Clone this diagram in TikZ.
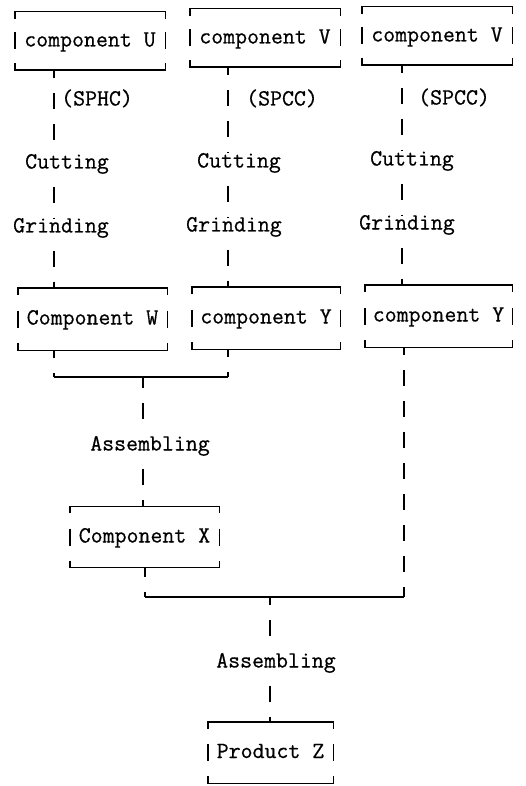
\documentclass[tikz,border=0pt]{standalone}
\usepackage{fontspec}
\newfontfamily\tw[BoldFont={Latin Modern Mono}, BoldFeatures={FakeBold=0.6}]{Latin Modern Mono}
\newcommand\lbfont{\fontsize{23.2}{27}\tw\bfseries}
\begin{document}
\begin{tikzpicture}[x=1pt,y=-1pt,
  box/.style 2 args={font=\lbfont, inner sep=0pt, text height=14pt, text depth=3pt,
                     minimum width=#1, minimum height=#2},
  lbl/.style={font=\lbfont, inner sep=0pt, text height=14pt, text depth=3pt},
  frame/.style={line width=1.4pt},
  link/.style={line width=1.5pt, dash pattern=on 16pt off 15pt}]
\useasboundingbox (0,0) rectangle (525,786);
% column coordinates
\coordinate (c1) at (54,0);
\coordinate (c2) at (228,0);
\coordinate (c3) at (402,0);
% boxes
\node[box={150pt}{58pt}] (U)  at (90,41)    {component U};
\node[box={150pt}{58pt}] (V1) at (265,38)   {component V};
\node[box={150pt}{58pt}] (V2) at (437,36)   {component V};
\node[box={149pt}{62pt}] (W)  at (92.5,319) {Component W};
\node[box={148pt}{62pt}] (Y1) at (266,318)  {component Y};
\node[box={147pt}{62pt}] (Y2) at (438.5,316){component Y};
\node[box={149pt}{61pt}] (X)  at (144.5,537){Component X};
\node[box={125pt}{61pt}] (Z)  at (270.5,752.5){Product Z};
\foreach \n in {U,V1,V2,W,Y1,Y2,X,Z}{
  \draw[frame] ([yshift=-7pt]\n.north west) -- (\n.north west) -- (\n.north east) -- ([yshift=-7pt]\n.north east);
  \draw[frame] ([yshift=7pt]\n.south west) -- (\n.south west) -- (\n.south east) -- ([yshift=7pt]\n.south east);
  \draw[frame] ([yshift=8.5pt]\n.west) -- ([yshift=-8.5pt]\n.west);
  \draw[frame] ([yshift=8.5pt]\n.east) -- ([yshift=-8.5pt]\n.east);
}
% material labels
\node[lbl, anchor=west] (m1) at (61,100) {(SPHC)};
\node[lbl, anchor=west] (m2) at (246,100) {(SPCC)};
\node[lbl, anchor=west] (m3) at (418,99) {(SPCC)};
% process labels
\node[lbl] (Cut1) at (67,163) {Cutting};
\node[lbl] (Cut2) at (239,162) {Cutting};
\node[lbl] (Cut3) at (412,160) {Cutting};
\node[lbl] (Gr1) at (61,227) {Grinding};
\node[lbl] (Gr2) at (234,226) {Grinding};
\node[lbl] (Gr3) at (407,224) {Grinding};
\node[lbl] (As1) at (150,445) {Assembling};
\node[lbl] (As2) at (276,662) {Assembling};
% upper columns
\draw[link, dash phase=8pt] (U.south -| c1) -- (Cut1.north -| c1);
\draw[link, dash phase=16pt] (Cut1.south -| c1) -- (Gr1.north -| c1);
\draw[link, dash phase=16pt] (Gr1.south -| c1) -- (W.north -| c1);
\draw[link, dash phase=8pt] (V1.south -| c2) -- (Cut2.north -| c2);
\draw[link, dash phase=16pt] (Cut2.south -| c2) -- (Gr2.north -| c2);
\draw[link, dash phase=16pt] (Gr2.south -| c2) -- (Y1.north -| c2);
\draw[link, dash phase=8pt] (V2.south -| c3) -- (Cut3.north -| c3);
\draw[link, dash phase=16pt] (Cut3.south -| c3) -- (Gr3.north -| c3);
\draw[link, dash phase=16pt] (Gr3.south -| c3) -- (Y2.north -| c3);
% first assembly
\coordinate (j1L) at (54,377);
\coordinate (j1R) at (228,377);
\coordinate (j1M) at (143,377);
\draw[link, dash phase=8pt] (W.south -| j1L) -- (j1L);
\draw[link, dash phase=8pt] (Y1.south -| j1R) -- (j1R);
\draw[frame] (j1L) -- (j1R);
\draw[link, dash phase=5pt, shorten >=3pt] (j1M) -- (As1.north -| j1M);
\draw[link, dash phase=16pt] (As1.south -| j1M) -- (X.north -| j1M);
% second assembly
\coordinate (j2L) at (145,597);
\coordinate (j2R) at (404,597);
\coordinate (j2M) at (270,597);
\draw[link, dash phase=7pt] (X.south -| j2L) -- (j2L);
\draw[link, dash phase=8pt] (Y2.south -| j2R) -- (j2R);
\draw[frame] (j2L) -- (j2R);
\draw[link, dash phase=8pt, shorten >=3pt] (j2M) -- (As2.north -| j2M);
\draw[link, dash phase=16pt] (As2.south -| j2M) -- (Z.north -| j2M);
\end{tikzpicture}
\end{document}
